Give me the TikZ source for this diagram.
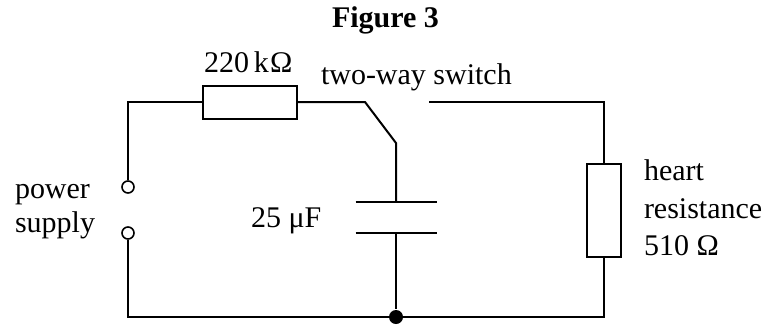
\documentclass[tikz,border=0pt]{standalone}
\usepackage{fontspec}
\setmainfont{Liberation Serif}
\usepackage{tikz}

\begin{document}
\begin{tikzpicture}[
		x=1pt, y=-1pt,
		line width=2pt,
		every node/.style={inner sep=0pt, font=\fontsize{30}{37.5}\selectfont},
		resistor/.style={rectangle, draw, minimum width=#1},
		terminal/.style={circle, draw, line width=1.6pt, minimum size=12pt},
		txt/.style={anchor=base west}
	]
  \useasboundingbox (0, 0) rectangle (771, 325);
  % components
  \node (R_series) [resistor=94pt, minimum height=33pt] at (250, 102) {};
  \node (R_heart) [resistor=34pt, minimum height=93pt] at (604, 210.5) {};
  \node (T_top) [terminal] at (128, 187) {};
  \node (T_bot) [terminal] at (128, 233) {};
  \node (C) [minimum width=79pt, minimum height=29pt] at (396, 217.5) {};
  \node (J) [circle, fill, minimum size=14pt] at (396, 317) {};
  \coordinate (tl) at (128, 102);
  \coordinate (tr) at (604, 102);
  \coordinate (bl) at (128, 317);
  \coordinate (br) at (604, 317);
  \coordinate (pivot) at (365, 102);
  \coordinate (blade) at (396, 143);
  \coordinate (contact) at (429, 102);
  % labels
  \node (title) [txt, font=\fontsize{30}{37.5}\selectfont\bfseries] at (331, 27) {Figure 3};
  \node (R_series_label) [txt] at (203, 72) {220\,k\kern1ptΩ};
  \node (switch_label) [txt] at (320, 84) {two-way switch};
  \node (supply_label) [txt] at (14, 198) {power};
  \node (supply_label2) [txt] at (14, 232) {supply};
  \node (C_label) [txt] at (250, 227) {25 μF};
  \node (R_heart_label) [txt] at (643, 180) {heart};
  \node (R_heart_label2) [txt] at (643, 218) {resistance};
  \node (R_heart_label3) [txt] at (643, 255) {510 Ω};
  % wires
  \draw (T_top) -- (tl) -- (R_series);
  \draw (R_series) -- (pivot) -- (blade) -- (C.north);
  \draw (C.north west) -- (C.north east);
  \draw (C.south west) -- (C.south east);
  \draw (C.south) -- (J);
  \draw (contact) -- (tr) -- (R_heart);
  \draw (R_heart) -- (br) -- (bl) -- (T_bot);
\end{tikzpicture}
\end{document}
